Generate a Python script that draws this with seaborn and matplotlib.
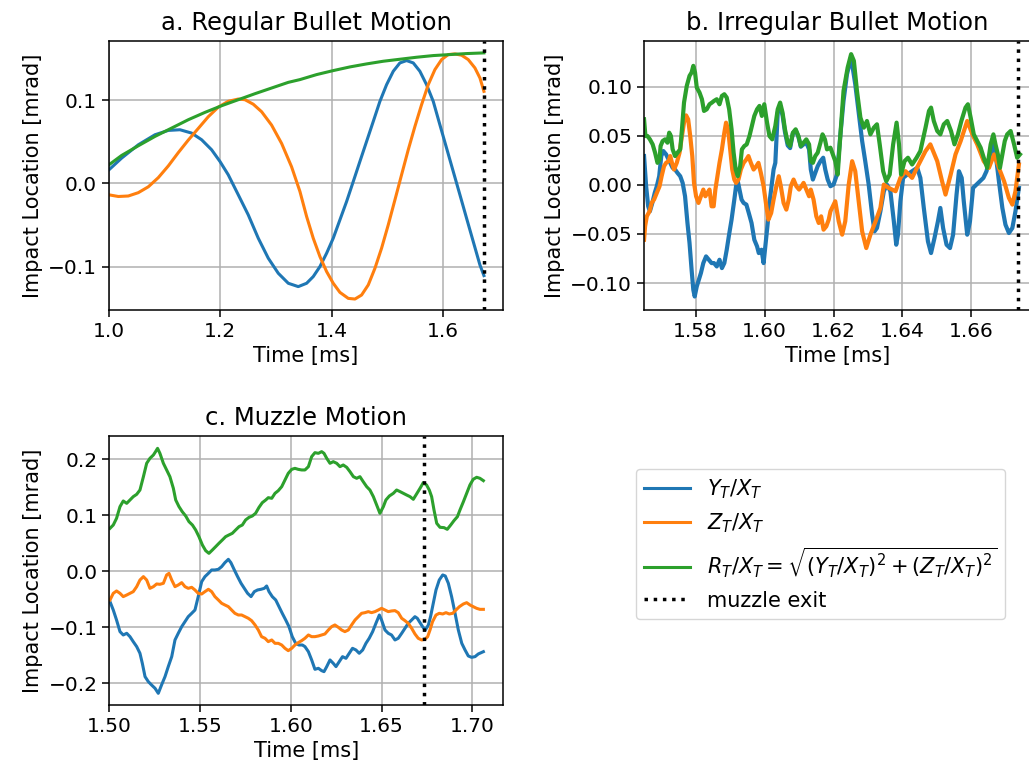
import matplotlib
matplotlib.use("Agg")
import matplotlib.pyplot as plt
import seaborn as sns
from matplotlib.lines import Line2D

# muzzle exit time [ms]
t_exit = 1.6736

# ---------- a. regular bullet motion ----------
a_t_y = [1.0, 1.0227, 1.0527, 1.0826, 1.1065, 1.1275, 1.1484, 1.1664, 1.1843, 1.1993,
         1.2142, 1.2322, 1.2501, 1.2681, 1.2861, 1.3040, 1.3220, 1.3399, 1.3549, 1.3668,
         1.3788, 1.3908, 1.4027, 1.4147, 1.4267, 1.4387, 1.4506, 1.4626, 1.4746, 1.4865,
         1.4985, 1.5105, 1.5224, 1.5344, 1.5464, 1.5583, 1.5703, 1.5823, 1.5942, 1.6062,
         1.6182, 1.6302, 1.6421, 1.6541, 1.6661, 1.6733]
a_y = [0.0164, 0.0304, 0.0464, 0.0584, 0.0636, 0.0644, 0.0604, 0.0524, 0.0404, 0.0264,
       0.0104, -0.0136, -0.0376, -0.0656, -0.0896, -0.1076, -0.1196, -0.1236, -0.1196, -0.1116,
       -0.0996, -0.0836, -0.0656, -0.0436, -0.0216, 0.0024, 0.0264, 0.0504, 0.0744, 0.0984,
       0.1184, 0.1345, 0.1445, 0.1473, 0.1445, 0.1345, 0.1184, 0.0984, 0.0704, 0.0424,
       0.0144, -0.0136, -0.0416, -0.0696, -0.0976, -0.1104]

a_t_z = [1.0, 1.0168, 1.0347, 1.0527, 1.0706, 1.0886, 1.1065, 1.1245, 1.1424, 1.1604,
         1.1783, 1.1963, 1.2142, 1.2322, 1.2442, 1.2591, 1.2741, 1.2920, 1.3100, 1.3279,
         1.3429, 1.3549, 1.3668, 1.3788, 1.3908, 1.4027, 1.4147, 1.4297, 1.4417, 1.4536,
         1.4656, 1.4776, 1.4895, 1.5015, 1.5135, 1.5254, 1.5374, 1.5494, 1.5613, 1.5733,
         1.5853, 1.5973, 1.6092, 1.6212, 1.6332, 1.6451, 1.6571, 1.6661, 1.6733]
a_z = [-0.0136, -0.0156, -0.0150, -0.0110, -0.0040, 0.0070, 0.0210, 0.0370, 0.0520, 0.0660,
       0.0800, 0.0915, 0.0985, 0.1012, 0.1004, 0.0950, 0.0860, 0.0700, 0.0480, 0.0200,
       -0.0096, -0.0396, -0.0656, -0.0876, -0.1056, -0.1196, -0.1305, -0.1377, -0.1385, -0.1337,
       -0.1216, -0.1016, -0.0776, -0.0496, -0.0196, 0.0104, 0.0404, 0.0684, 0.0944, 0.1184,
       0.1365, 0.1485, 0.1545, 0.1553, 0.1537, 0.1485, 0.1385, 0.1265, 0.1104]

a_t_r = [1.0, 1.0227, 1.0527, 1.0826, 1.1125, 1.1424, 1.1723, 1.2023, 1.2322, 1.2621,
         1.2920, 1.3220, 1.3429, 1.3728, 1.4027, 1.4327, 1.4626, 1.4925, 1.5224, 1.5524,
         1.5823, 1.6122, 1.6421, 1.6733]
a_r = [0.0224, 0.0336, 0.0452, 0.0564, 0.0664, 0.0764, 0.0852, 0.0932, 0.1004, 0.1076,
       0.1144, 0.1212, 0.1245, 0.1305, 0.1353, 0.1397, 0.1433, 0.1465, 0.1489, 0.1513,
       0.1533, 0.1545, 0.1557, 0.1565]

# ---------- b. irregular bullet motion ----------
b_t_y = [1.5650, 1.5656, 1.5662, 1.5667, 1.5674, 1.5681, 1.5687, 1.5694, 1.5700, 1.5706,
         1.5714, 1.5721, 1.5726, 1.5733, 1.5740, 1.5747, 1.5755, 1.5762, 1.5769, 1.5776,
         1.5782, 1.5788, 1.5793, 1.5797, 1.5803, 1.5809, 1.5815, 1.5822, 1.5830, 1.5838,
         1.5846, 1.5853, 1.5861, 1.5869, 1.5876, 1.5883, 1.5890, 1.5896, 1.5904, 1.5912,
         1.5917, 1.5922, 1.5927, 1.5933, 1.5939, 1.5947, 1.5954, 1.5962, 1.5970, 1.5978,
         1.5983, 1.5991, 1.5997, 1.6003, 1.6009, 1.6014, 1.6020, 1.6026, 1.6031, 1.6038,
         1.6045, 1.6052, 1.6059, 1.6067, 1.6074, 1.6082, 1.6090, 1.6098, 1.6105, 1.6113,
         1.6121, 1.6129, 1.6134, 1.6140, 1.6147, 1.6154, 1.6162, 1.6170, 1.6176, 1.6183,
         1.6191, 1.6200, 1.6210, 1.6220, 1.6229, 1.6239, 1.6251, 1.6263, 1.6276, 1.6283,
         1.6292, 1.6302, 1.6312, 1.6319, 1.6326, 1.6336, 1.6346, 1.6355, 1.6365, 1.6375,
         1.6382, 1.6387, 1.6394, 1.6402, 1.6414, 1.6428, 1.6443, 1.6452, 1.6462, 1.6474,
         1.6483, 1.6493, 1.6503, 1.6510, 1.6518, 1.6528, 1.6538, 1.6547, 1.6557, 1.6564,
         1.6572, 1.6578, 1.6588, 1.6596, 1.6605, 1.6615, 1.6625, 1.6635, 1.6644, 1.6656,
         1.6666, 1.6673, 1.6680, 1.6690, 1.6699, 1.6709, 1.6719, 1.6728, 1.6738]
b_y = [0.0293, -0.0014, -0.0218, -0.0269, -0.0184, -0.0082, -0.0014, 0.0088, 0.0293, 0.0344,
       0.0310, 0.0259, 0.0224, 0.0173, 0.0156, 0.0122, 0.0088, 0.0020, -0.0116, -0.0388,
       -0.0592, -0.0864, -0.1068, -0.1136, -0.1034, -0.0966, -0.0898, -0.0796, -0.0728, -0.0762,
       -0.0796, -0.0796, -0.0830, -0.0762, -0.0847, -0.0796, -0.0660, -0.0524, -0.0354, -0.0150,
       -0.0014, 0.0037, -0.0048, -0.0150, -0.0184, -0.0201, -0.0286, -0.0388, -0.0558, -0.0626,
       -0.0694, -0.0660, -0.0796, -0.0592, -0.0388, -0.0184, -0.0014, 0.0156, 0.0224, 0.0735,
       0.0803, 0.0707, 0.0537, 0.0401, 0.0374, 0.0524, 0.0558, 0.0490, 0.0388, 0.0412,
       0.0429, 0.0361, 0.0156, 0.0054, 0.0122, 0.0190, 0.0241, 0.0276, 0.0156, 0.0054,
       -0.0014, 0.0003, 0.0105, 0.0514, 0.0854, 0.1126, 0.1296, 0.1024, 0.0650, 0.0446,
       0.0241, 0.0003, -0.0303, -0.0473, -0.0439, -0.0269, -0.0065, 0.0003, -0.0065, -0.0371,
       -0.0609, -0.0507, -0.0167, 0.0071, 0.0105, 0.0139, 0.0173, 0.0071, -0.0235, -0.0575,
       -0.0694, -0.0541, -0.0371, -0.0235, -0.0439, -0.0609, -0.0643, -0.0507, -0.0099, 0.0139,
       0.0071, -0.0167, -0.0507, -0.0371, -0.0031, 0.0003, 0.0037, 0.0071, 0.0139, 0.0310,
       0.0412, 0.0241, 0.0037, -0.0235, -0.0405, -0.0490, -0.0439, -0.0269, -0.0031]

b_t_z = [1.5650, 1.5653, 1.5658, 1.5666, 1.5672, 1.5679, 1.5687, 1.5695, 1.5701, 1.5708,
         1.5714, 1.5721, 1.5726, 1.5731, 1.5737, 1.5745, 1.5753, 1.5760, 1.5766, 1.5772,
         1.5778, 1.5784, 1.5790, 1.5795, 1.5801, 1.5808, 1.5815, 1.5822, 1.5828, 1.5834,
         1.5840, 1.5846, 1.5852, 1.5857, 1.5863, 1.5869, 1.5876, 1.5883, 1.5888, 1.5894,
         1.5900, 1.5906, 1.5912, 1.5917, 1.5924, 1.5931, 1.5939, 1.5947, 1.5953, 1.5960,
         1.5968, 1.5976, 1.5982, 1.5989, 1.5997, 1.6005, 1.6011, 1.6019, 1.6026, 1.6034,
         1.6041, 1.6047, 1.6055, 1.6063, 1.6070, 1.6076, 1.6084, 1.6092, 1.6100, 1.6107,
         1.6113, 1.6121, 1.6129, 1.6134, 1.6142, 1.6150, 1.6157, 1.6164, 1.6171, 1.6179,
         1.6186, 1.6191, 1.6205, 1.6215, 1.6225, 1.6234, 1.6244, 1.6254, 1.6263, 1.6273,
         1.6283, 1.6295, 1.6307, 1.6322, 1.6336, 1.6346, 1.6360, 1.6380, 1.6394, 1.6409,
         1.6428, 1.6447, 1.6467, 1.6481, 1.6501, 1.6515, 1.6525, 1.6540, 1.6554, 1.6569,
         1.6588, 1.6603, 1.6617, 1.6636, 1.6651, 1.6666, 1.6680, 1.6695, 1.6709, 1.6719,
         1.6728, 1.6738]
b_z = [-0.0558, -0.0422, -0.0320, -0.0269, -0.0184, -0.0150, -0.0082, -0.0014, 0.0088, 0.0190,
       0.0224, 0.0241, 0.0293, 0.0224, 0.0156, 0.0224, 0.0327, 0.0497, 0.0633, 0.0707,
       0.0667, 0.0497, 0.0293, 0.0020, -0.0116, -0.0184, -0.0116, -0.0048, -0.0116, -0.0082,
       -0.0048, -0.0218, -0.0218, -0.0048, 0.0088, 0.0224, 0.0361, 0.0531, 0.0633, 0.0565,
       0.0361, 0.0156, 0.0054, 0.0020, 0.0054, 0.0156, 0.0224, 0.0259, 0.0293, 0.0224,
       0.0156, 0.0190, 0.0224, 0.0122, -0.0014, -0.0218, -0.0354, -0.0286, -0.0150, -0.0014,
       0.0088, -0.0014, -0.0184, -0.0252, -0.0150, -0.0014, 0.0054, -0.0014, -0.0048, -0.0014,
       0.0020, -0.0048, -0.0116, -0.0048, -0.0150, -0.0320, -0.0388, -0.0320, -0.0456, -0.0422,
       -0.0354, -0.0269, -0.0167, -0.0371, -0.0507, -0.0371, 0.0003, 0.0241, 0.0139, -0.0167,
       -0.0473, -0.0643, -0.0507, -0.0371, -0.0235, 0.0003, -0.0031, -0.0065, 0.0071, 0.0139,
       0.0071, 0.0207, 0.0344, 0.0412, 0.0241, 0.0037, -0.0099, 0.0105, 0.0310, 0.0446,
       0.0650, 0.0514, 0.0412, 0.0241, 0.0173, 0.0310, 0.0173, 0.0037, -0.0133, -0.0201,
       -0.0065, 0.0207]

b_t_r = [1.5650, 1.5654, 1.5660, 1.5667, 1.5675, 1.5682, 1.5689, 1.5695, 1.5698, 1.5704,
         1.5711, 1.5718, 1.5723, 1.5728, 1.5733, 1.5740, 1.5747, 1.5755, 1.5760, 1.5766,
         1.5774, 1.5782, 1.5788, 1.5793, 1.5798, 1.5803, 1.5811, 1.5818, 1.5824, 1.5832,
         1.5840, 1.5847, 1.5853, 1.5861, 1.5869, 1.5876, 1.5883, 1.5890, 1.5897, 1.5904,
         1.5910, 1.5916, 1.5922, 1.5929, 1.5934, 1.5941, 1.5948, 1.5956, 1.5963, 1.5970,
         1.5978, 1.5985, 1.5992, 1.5999, 1.6007, 1.6014, 1.6022, 1.6031, 1.6038, 1.6045,
         1.6052, 1.6059, 1.6067, 1.6074, 1.6082, 1.6090, 1.6098, 1.6105, 1.6113, 1.6121,
         1.6129, 1.6134, 1.6140, 1.6147, 1.6154, 1.6162, 1.6168, 1.6175, 1.6181, 1.6191,
         1.6205, 1.6212, 1.6220, 1.6229, 1.6241, 1.6251, 1.6259, 1.6268, 1.6278, 1.6288,
         1.6297, 1.6307, 1.6317, 1.6326, 1.6334, 1.6344, 1.6353, 1.6363, 1.6373, 1.6383,
         1.6390, 1.6396, 1.6406, 1.6416, 1.6428, 1.6441, 1.6452, 1.6467, 1.6477, 1.6483,
         1.6491, 1.6501, 1.6510, 1.6520, 1.6530, 1.6541, 1.6551, 1.6561, 1.6571, 1.6583,
         1.6590, 1.6598, 1.6607, 1.6617, 1.6627, 1.6636, 1.6646, 1.6656, 1.6664, 1.6670,
         1.6677, 1.6683, 1.6690, 1.6697, 1.6704, 1.6714, 1.6724, 1.6733, 1.6741]
b_r = [0.0667, 0.0497, 0.0497, 0.0463, 0.0412, 0.0327, 0.0224, 0.0259, 0.0395, 0.0446,
       0.0463, 0.0429, 0.0531, 0.0497, 0.0361, 0.0293, 0.0327, 0.0361, 0.0565, 0.0837,
       0.1007, 0.1109, 0.1143, 0.1211, 0.1143, 0.0990, 0.0939, 0.0871, 0.0752, 0.0769,
       0.0820, 0.0837, 0.0854, 0.0871, 0.0820, 0.0905, 0.0922, 0.0888, 0.0769, 0.0565,
       0.0327, 0.0156, 0.0088, 0.0190, 0.0361, 0.0395, 0.0412, 0.0497, 0.0599, 0.0701,
       0.0769, 0.0803, 0.0701, 0.0820, 0.0633, 0.0497, 0.0463, 0.0599, 0.0769, 0.0837,
       0.0735, 0.0565, 0.0429, 0.0395, 0.0531, 0.0565, 0.0497, 0.0395, 0.0429, 0.0463,
       0.0412, 0.0241, 0.0224, 0.0293, 0.0327, 0.0429, 0.0514, 0.0463, 0.0361, 0.0378,
       0.0241, 0.0105, 0.0514, 0.0956, 0.1194, 0.1330, 0.1262, 0.0956, 0.0684, 0.0582,
       0.0650, 0.0514, 0.0582, 0.0616, 0.0412, 0.0139, 0.0037, 0.0105, 0.0412, 0.0633,
       0.0412, 0.0105, 0.0241, 0.0276, 0.0207, 0.0276, 0.0344, 0.0582, 0.0752, 0.0786,
       0.0650, 0.0548, 0.0514, 0.0616, 0.0650, 0.0548, 0.0412, 0.0514, 0.0650, 0.0786,
       0.0820, 0.0684, 0.0514, 0.0446, 0.0378, 0.0276, 0.0173, 0.0412, 0.0514, 0.0412,
       0.0310, 0.0173, 0.0310, 0.0446, 0.0514, 0.0548, 0.0412, 0.0276, 0.0310]

# ---------- c. muzzle motion ----------
c_t_y = [1.5004, 1.5022, 1.5040, 1.5059, 1.5077, 1.5096, 1.5114, 1.5132, 1.5151, 1.5169,
         1.5182, 1.5197, 1.5215, 1.5233, 1.5252, 1.5270, 1.5288, 1.5307, 1.5325, 1.5344,
         1.5362, 1.5380, 1.5399, 1.5417, 1.5435, 1.5454, 1.5472, 1.5490, 1.5509, 1.5527,
         1.5546, 1.5564, 1.5582, 1.5601, 1.5619, 1.5637, 1.5656, 1.5670, 1.5689, 1.5707,
         1.5726, 1.5744, 1.5762, 1.5781, 1.5799, 1.5817, 1.5836, 1.5854, 1.5867, 1.5880,
         1.5898, 1.5917, 1.5935, 1.5953, 1.5972, 1.5990, 1.6008, 1.6027, 1.6045, 1.6064,
         1.6078, 1.6097, 1.6115, 1.6133, 1.6152, 1.6170, 1.6183, 1.6198, 1.6216, 1.6234,
         1.6249, 1.6267, 1.6285, 1.6304, 1.6322, 1.6340, 1.6359, 1.6377, 1.6396, 1.6414,
         1.6432, 1.6451, 1.6469, 1.6488, 1.6500, 1.6519, 1.6537, 1.6555, 1.6574, 1.6592,
         1.6611, 1.6629, 1.6647, 1.6666, 1.6684, 1.6697, 1.6712, 1.6726, 1.6741, 1.6758,
         1.6770, 1.6785, 1.6800, 1.6818, 1.6837, 1.6851, 1.6868, 1.6886, 1.6905, 1.6923,
         1.6942, 1.6960, 1.6978, 1.6996, 1.7015, 1.7033, 1.7061]
c_y = [-0.0539, -0.0688, -0.0866, -0.1074, -0.1134, -0.1104, -0.1164, -0.1253, -0.1342, -0.1461,
       -0.1640, -0.1878, -0.1967, -0.2027, -0.2086, -0.2176, -0.2027, -0.1878, -0.1699, -0.1521,
       -0.1223, -0.1104, -0.0985, -0.0896, -0.0807, -0.0747, -0.0688, -0.0449, -0.0182, -0.0092,
       -0.0033, 0.0027, 0.0027, 0.0039, 0.0086, 0.0158, 0.0217, 0.0158, 0.0027, -0.0092,
       -0.0211, -0.0301, -0.0390, -0.0449, -0.0360, -0.0330, -0.0318, -0.0301, -0.0259, -0.0360,
       -0.0449, -0.0509, -0.0628, -0.0747, -0.0866, -0.0985, -0.1164, -0.1283, -0.1313, -0.1313,
       -0.1342, -0.1432, -0.1580, -0.1747, -0.1729, -0.1771, -0.1789, -0.1699, -0.1580, -0.1640,
       -0.1699, -0.1610, -0.1521, -0.1551, -0.1461, -0.1372, -0.1402, -0.1461, -0.1402, -0.1283,
       -0.1193, -0.1074, -0.0926, -0.0777, -0.0866, -0.1045, -0.1104, -0.1134, -0.1223, -0.1193,
       -0.1104, -0.1015, -0.0926, -0.0866, -0.0807, -0.0836, -0.0914, -0.0985, -0.1045, -0.0955,
       -0.0807, -0.0568, -0.0330, -0.0152, -0.0062, -0.0080, -0.0211, -0.0449, -0.0747, -0.1045,
       -0.1283, -0.1402, -0.1509, -0.1533, -0.1521, -0.1473, -0.1432]

c_t_z = [1.5004, 1.5022, 1.5040, 1.5059, 1.5077, 1.5096, 1.5114, 1.5132, 1.5151, 1.5169,
         1.5188, 1.5206, 1.5224, 1.5243, 1.5261, 1.5279, 1.5298, 1.5316, 1.5329, 1.5344,
         1.5362, 1.5380, 1.5399, 1.5417, 1.5435, 1.5454, 1.5472, 1.5490, 1.5509, 1.5527,
         1.5546, 1.5564, 1.5582, 1.5601, 1.5619, 1.5637, 1.5656, 1.5674, 1.5692, 1.5711,
         1.5729, 1.5748, 1.5766, 1.5784, 1.5803, 1.5821, 1.5839, 1.5858, 1.5876, 1.5895,
         1.5913, 1.5931, 1.5950, 1.5968, 1.5986, 1.6005, 1.6023, 1.6041, 1.6060, 1.6078,
         1.6097, 1.6115, 1.6133, 1.6152, 1.6170, 1.6188, 1.6207, 1.6225, 1.6243, 1.6262,
         1.6280, 1.6298, 1.6317, 1.6335, 1.6354, 1.6372, 1.6390, 1.6409, 1.6427, 1.6445,
         1.6464, 1.6482, 1.6500, 1.6519, 1.6537, 1.6555, 1.6574, 1.6592, 1.6611, 1.6629,
         1.6647, 1.6666, 1.6684, 1.6702, 1.6721, 1.6739, 1.6754, 1.6767, 1.6781, 1.6800,
         1.6818, 1.6837, 1.6855, 1.6873, 1.6892, 1.6910, 1.6929, 1.6951, 1.6969, 1.6987,
         1.7005, 1.7024, 1.7042, 1.7061]
c_z = [-0.0509, -0.0390, -0.0348, -0.0390, -0.0449, -0.0420, -0.0390, -0.0360, -0.0271, -0.0152,
       -0.0092, -0.0152, -0.0301, -0.0271, -0.0223, -0.0229, -0.0211, -0.0062, -0.0033, -0.0152,
       -0.0271, -0.0241, -0.0199, -0.0271, -0.0301, -0.0283, -0.0330, -0.0390, -0.0402, -0.0360,
       -0.0318, -0.0360, -0.0449, -0.0509, -0.0568, -0.0598, -0.0628, -0.0688, -0.0747, -0.0777,
       -0.0777, -0.0807, -0.0836, -0.0878, -0.0955, -0.1045, -0.1164, -0.1193, -0.1253, -0.1223,
       -0.1283, -0.1283, -0.1313, -0.1372, -0.1414, -0.1372, -0.1313, -0.1271, -0.1235, -0.1193,
       -0.1134, -0.1164, -0.1164, -0.1152, -0.1134, -0.1116, -0.1045, -0.0985, -0.0955, -0.0997,
       -0.1045, -0.1074, -0.1045, -0.0955, -0.0866, -0.0807, -0.0747, -0.0735, -0.0717, -0.0735,
       -0.0717, -0.0688, -0.0658, -0.0688, -0.0717, -0.0705, -0.0699, -0.0735, -0.0836, -0.0878,
       -0.0926, -0.1015, -0.1116, -0.1193, -0.1223, -0.1211, -0.1164, -0.1045, -0.0896, -0.0777,
       -0.0747, -0.0759, -0.0735, -0.0759, -0.0747, -0.0688, -0.0628, -0.0580, -0.0557, -0.0598,
       -0.0628, -0.0658, -0.0676, -0.0676]

c_t_r = [1.5004, 1.5022, 1.5040, 1.5059, 1.5077, 1.5096, 1.5114, 1.5132, 1.5151, 1.5169,
         1.5188, 1.5206, 1.5224, 1.5243, 1.5255, 1.5266, 1.5279, 1.5298, 1.5316, 1.5334,
         1.5353, 1.5366, 1.5384, 1.5402, 1.5421, 1.5439, 1.5458, 1.5476, 1.5494, 1.5513,
         1.5531, 1.5549, 1.5568, 1.5586, 1.5604, 1.5623, 1.5641, 1.5659, 1.5678, 1.5696,
         1.5715, 1.5733, 1.5751, 1.5770, 1.5788, 1.5806, 1.5825, 1.5843, 1.5862, 1.5876,
         1.5895, 1.5913, 1.5931, 1.5950, 1.5968, 1.5986, 1.6005, 1.6023, 1.6041, 1.6060,
         1.6078, 1.6097, 1.6115, 1.6133, 1.6152, 1.6170, 1.6183, 1.6198, 1.6216, 1.6234,
         1.6253, 1.6271, 1.6289, 1.6308, 1.6326, 1.6345, 1.6363, 1.6381, 1.6399, 1.6418,
         1.6436, 1.6455, 1.6473, 1.6491, 1.6510, 1.6524, 1.6543, 1.6565, 1.6583, 1.6602,
         1.6620, 1.6638, 1.6657, 1.6675, 1.6693, 1.6712, 1.6730, 1.6748, 1.6763, 1.6776,
         1.6789, 1.6804, 1.6822, 1.6844, 1.6862, 1.6881, 1.6899, 1.6918, 1.6932, 1.6951,
         1.6969, 1.6987, 1.7005, 1.7024, 1.7042, 1.7061]
c_r = [0.0771, 0.0830, 0.0949, 0.1158, 0.1259, 0.1217, 0.1277, 0.1336, 0.1378, 0.1455,
       0.1693, 0.1932, 0.2021, 0.2080, 0.2140, 0.2199, 0.2110, 0.1932, 0.1813, 0.1693,
       0.1485, 0.1277, 0.1158, 0.1068, 0.0991, 0.0890, 0.0830, 0.0741, 0.0622, 0.0473,
       0.0372, 0.0324, 0.0384, 0.0443, 0.0503, 0.0563, 0.0622, 0.0652, 0.0682, 0.0741,
       0.0801, 0.0830, 0.0920, 0.0967, 0.0991, 0.1039, 0.1146, 0.1229, 0.1277, 0.1318,
       0.1307, 0.1396, 0.1443, 0.1515, 0.1634, 0.1753, 0.1824, 0.1842, 0.1824, 0.1813,
       0.1813, 0.1872, 0.2051, 0.2122, 0.2110, 0.2140, 0.2110, 0.2021, 0.1932, 0.1961,
       0.1932, 0.1872, 0.1902, 0.1860, 0.1783, 0.1693, 0.1664, 0.1693, 0.1604, 0.1515,
       0.1455, 0.1336, 0.1188, 0.1039, 0.1158, 0.1277, 0.1348, 0.1396, 0.1455, 0.1426,
       0.1396, 0.1366, 0.1336, 0.1289, 0.1384, 0.1485, 0.1586, 0.1545, 0.1455, 0.1336,
       0.1098, 0.0860, 0.0789, 0.0783, 0.0753, 0.0830, 0.0908, 0.0979, 0.1098, 0.1247,
       0.1396, 0.1545, 0.1646, 0.1682, 0.1664, 0.1622]

titles = ["a. Regular Bullet Motion", "b. Irregular Bullet Motion", "c. Muzzle Motion"]
legend_labels = [r"$Y_T/X_T$", r"$Z_T/X_T$",
                 r"$R_T/X_T = \sqrt{(Y_T/X_T)^2 + (Z_T/X_T)^2}$", "muzzle exit"]

# tick positions and their labels
a_xticks = [1.0, 1.2, 1.4, 1.6]
a_yticks = [-0.1, 0.0, 0.1]
b_xticks = [1.58, 1.60, 1.62, 1.64, 1.66]
b_yticks = [-0.10, -0.05, 0.00, 0.05, 0.10]
c_xticks = [1.50, 1.55, 1.60, 1.65, 1.70]
c_yticks = [-0.2, -0.1, 0.0, 0.1, 0.2]

col_y, col_z, col_r = "#1f77b4", "#ff7f0e", "#2ca02c"

plt.rcParams["font.family"] = ["DejaVu Sans"]
plt.rcParams["axes.linewidth"] = 1.1

fig = plt.figure(figsize=(10.29, 7.73), dpi=100)
ax_a = fig.add_axes([0.1059, 0.5990, 0.3829, 0.3480])
ax_b = fig.add_axes([0.6259, 0.5990, 0.3760, 0.3480])
ax_c = fig.add_axes([0.1062, 0.0880, 0.3826, 0.3480])


def draw(ax, ty, y, tz, z, tr, r, lw, title, xt, yt, xfmt, yfmt):
    sns.lineplot(x=ty, y=y, ax=ax, color=col_y, lw=lw, estimator=None, sort=False)
    sns.lineplot(x=tz, y=z, ax=ax, color=col_z, lw=lw, estimator=None, sort=False)
    sns.lineplot(x=tr, y=r, ax=ax, color=col_r, lw=lw, estimator=None, sort=False)
    ax.axvline(t_exit, color="k", ls=":", lw=2.5)
    ax.grid(True, color="#b0b0b0", lw=1.1)
    ax.set_title(title, fontsize=17.5, pad=8)
    ax.set_xlabel("Time [ms]", fontsize=15)
    ax.set_ylabel("Impact Location [mrad]", fontsize=15)
    ax.set_xticks(xt)
    ax.set_xticklabels([xfmt.format(v) for v in xt])
    ax.set_yticks(yt)
    ax.set_yticklabels([yfmt.format(v).replace("-", "\u2212") for v in yt])
    ax.tick_params(labelsize=14.5, length=5, width=1.1)


draw(ax_a, a_t_y, a_y, a_t_z, a_z, a_t_r, a_r, 2.2, titles[0],
     a_xticks, a_yticks, "{:.1f}", "{:.1f}")
ax_a.set_xlim(1.0, 1.7075)
ax_a.set_ylim(-0.1516, 0.1708)

draw(ax_b, b_t_y, b_y, b_t_z, b_z, b_t_r, b_r, 3.0, titles[1],
     b_xticks, b_yticks, "{:.2f}", "{:.2f}")
ax_b.set_xlim(1.565, 1.6773)
ax_b.set_ylim(-0.1273, 0.1464)

draw(ax_c, c_t_y, c_y, c_t_z, c_z, c_t_r, c_r, 2.2, titles[2],
     c_xticks, c_yticks, "{:.2f}", "{:.1f}")
ax_c.set_xlim(1.5, 1.7169)
ax_c.set_ylim(-0.2384, 0.2420)

handles = [Line2D([], [], color=col_y, lw=2.2),
           Line2D([], [], color=col_z, lw=2.2),
           Line2D([], [], color=col_r, lw=2.2),
           Line2D([], [], color="k", ls=":", lw=2.5)]
fig.legend(handles, legend_labels, loc="center", bbox_to_anchor=(0.7974, 0.2963),
           fontsize=15, handlelength=2.2)

fig.savefig("out.png", dpi=100)
